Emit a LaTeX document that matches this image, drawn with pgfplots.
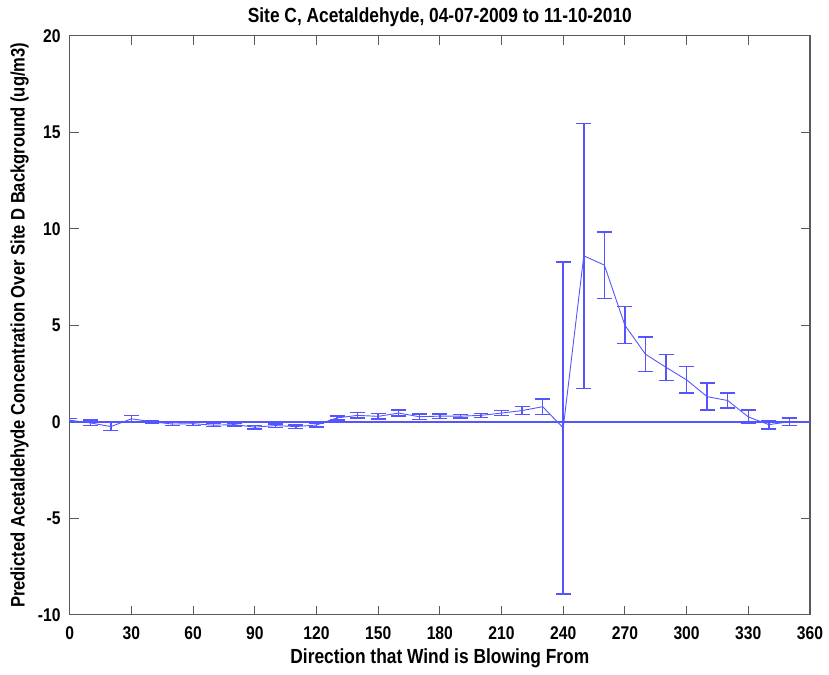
\documentclass[border=0pt]{standalone}
\usepackage{pgfplots}
\pgfplotsset{compat=1.18}
\usepackage{pgfplotstable}
\usepackage{fontspec}
\setmainfont[FakeStretch=0.85]{Liberation Sans}
\usetikzlibrary{calc}
\definecolor{lineblue}{RGB}{85,85,255}
\definecolor{axgray}{RGB}{90,90,90}

% direction, predicted concentration, error half-width
\pgfplotstableread{
x    y      e
0    0.08   0.10
10   -0.06  0.15
20   -0.25  0.20
30   0.15   0.18
40   0.00   0.07
50   -0.12  0.08
60   -0.10  0.08
70   -0.18  0.08
80   -0.15  0.08
90   -0.28  0.09
100  -0.20  0.09
110  -0.25  0.09
120  -0.17  0.10
130  0.20   0.10
140  0.33   0.14
150  0.28   0.14
160  0.45   0.15
170  0.26   0.14
180  0.29   0.12
190  0.29   0.10
200  0.33   0.10
210  0.45   0.14
220  0.58   0.20
230  0.78   0.40
240  -0.32  8.60
250  8.60   6.87
260  8.12   1.72
270  5.00   0.96
280  3.50   0.89
290  2.82   0.68
300  2.17   0.68
310  1.30   0.70
320  1.10   0.38
330  0.25   0.35
340  -0.15  0.23
350  0.00   0.19
}\acetaldehyde

\begin{document}
\fontsize{18}{21}\selectfont\bfseries
\begin{tikzpicture}
\begin{axis}[
    scale only axis,
    width=743pt, height=581pt,
    xmin=0, xmax=360, ymin=-10, ymax=20,
    xtick={0,30,...,360},
    ytick={-10,-5,...,20},
    tick align=inside,
    major tick length=9pt,
    axis line style={axgray, line width=1.2pt},
    every tick/.style={axgray, line width=1pt},
    /pgf/number format/assume math mode=true,
    tick label style={font=\fontsize{18.5}{21}\selectfont\bfseries},
    xticklabel style={yshift=-6pt},
    yticklabel style={xshift=-3pt},
    title={Site C, Acetaldehyde, 04-07-2009 to 11-10-2010},
    title style={font=\fontsize{20.5}{24}\selectfont\bfseries, yshift=-3pt},
    xlabel={Direction that Wind is Blowing From},
    ylabel={Predicted Acetaldehyde Concentration Over Site D Background (ug/m3)},
    xlabel style={font=\fontsize{20.5}{24}\selectfont\bfseries, yshift=3pt},
    ylabel style={font=\fontsize{19.6}{22}\selectfont\bfseries, yshift=-3pt},
]
\addplot[lineblue, line width=1.6pt, forget plot] coordinates {(0,0) (360,0)};
\addplot[color=lineblue, line width=0.9pt, mark=none,
    error bars/.cd, y dir=both, y explicit,
    error bar style={color=lineblue, solid, line width=1.5pt},
    error mark options={color=lineblue, rotate=90, line width=1.4pt, mark size=7.5pt}]
    table[x=x, y=y, y error=e] {\acetaldehyde};
\end{axis}
\path[use as bounding box] ($(current axis.south west)+(-70pt,-53pt)$) rectangle ($(current axis.north east)+(16pt,36pt)$);
\end{tikzpicture}
\end{document}
